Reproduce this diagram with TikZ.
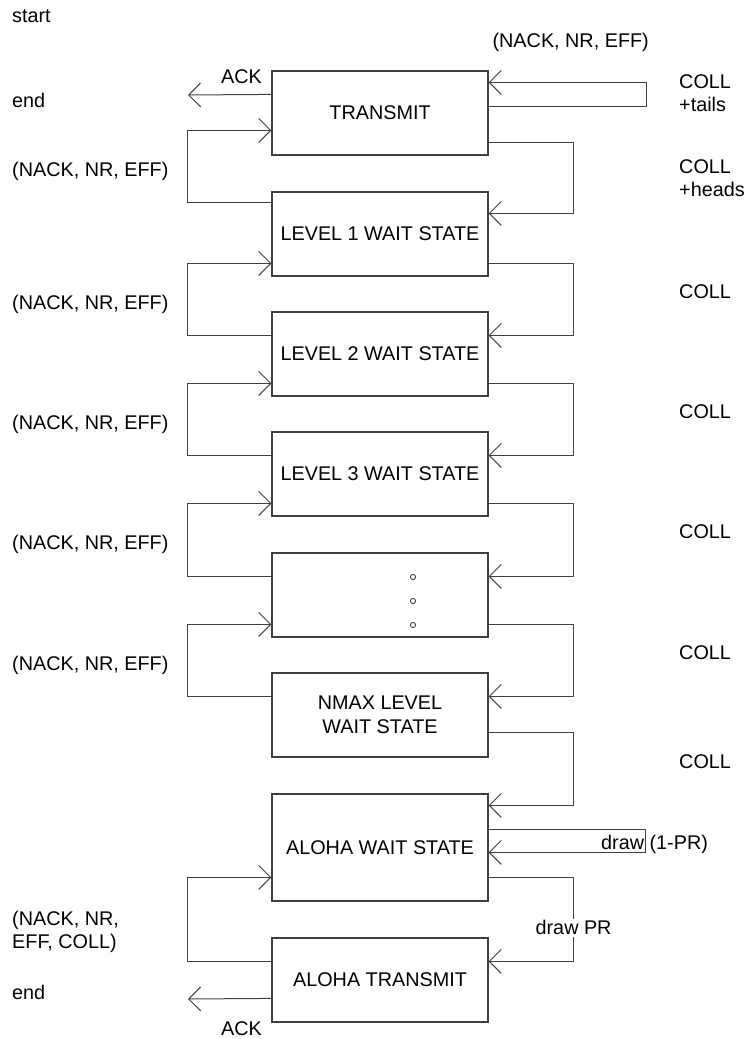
\documentclass[tikz,border=0pt]{standalone}
\usepackage{fontspec}
\setmainfont{Liberation Sans}
\usetikzlibrary{arrows.meta}

\begin{document}
\begin{tikzpicture}[x=1pt,y=-1pt,
  box/.style={draw=black!75,line width=1.2pt,minimum width=216pt,minimum height=84pt,inner sep=0pt,align=center,font=\fontsize{19.8}{23.5}\selectfont},
  txt/.style={inner sep=0pt,anchor=west,align=left,font=\fontsize{19.8}{23.5}\selectfont},
  arr/.style={draw=black!75,line width=1pt,-{Straight Barb[length=12pt,width=24pt,line width=1pt]}}
]
\useasboundingbox (0,0) rectangle (747,1039);

% states
\node[box] (tx) at (380,113) {TRANSMIT};
\node[box] (l1) at (380,234) {LEVEL 1 WAIT STATE};
\node[box] (l2) at (380,354) {LEVEL 2 WAIT STATE};
\node[box] (l3) at (380,474) {LEVEL 3 WAIT STATE};
\node[box] (ld) at (380,595) {};
\node[box] (ln) at (380,715) {NMAX LEVEL\\WAIT STATE};
\node[box,minimum height=107pt] (aw) at (380,847.5) {ALOHA WAIT STATE};
\node[box] (at) at (380,980) {ALOHA TRANSMIT};
\foreach \y in {577,601,625}
  \draw[black!75,line width=0.9pt] (413,\y) circle (2.6);

\coordinate (endtop) at (188,95);
\coordinate (endbot) at (188,999);

% texts
\node[txt] (start) at (12,16) {start};
\node[txt] (end1) at (12,100) {end};
\node[txt] (end2) at (12,992) {end};
\node[txt] (ack1) at (221,77) {ACK};
\node[txt] (ack2) at (221,1029) {ACK};
\node[txt,anchor=east] (nnetop) at (649,42) {(NACK, NR, EFF)};
\node[txt] (colltails) at (679,93) {COLL\\+tails};
\node[txt] (collheads) at (679,178) {COLL\\+heads};
\foreach \y [count=\i] in {171,304,424,544,665}
  \node[txt] (nne\i) at (12,\y) {(NACK, NR, EFF)};
\foreach \y [count=\i] in {292,412,532,653,762}
  \node[txt] (coll\i) at (679,\y) {COLL};
\node[txt] (nnec) at (12,932) {(NACK, NR,\\EFF, COLL)};
\node[txt] (drawq) at (601,844) {draw (1-PR)};

% transitions
\draw[arr] ([yshift=-24pt]tx.north west) -- (endtop);
\draw[arr] ([yshift=-36pt]tx.north east) -- ++(158,0) |- ([yshift=-12pt]tx.north east);
\draw[arr] ([yshift=-11pt]l1.north west) -- ++(-84,0) |- ([yshift=-60pt]tx.north west);
\draw[arr] ([yshift=-72pt]tx.north east) -- ++(85,0) |- ([yshift=-22pt]l1.north east);
\foreach \a/\b in {l2/l1,l3/l2,ld/l3,ln/ld}
  \draw[arr] ([yshift=-24pt]\a.north west) -- ++(-84,0) |- ([yshift=-72pt]\b.north west);
\foreach \a/\b in {l1/l2,l2/l3,l3/ld,ld/ln}
  \draw[arr] ([yshift=-72pt]\a.north east) -- ++(85,0) |- ([yshift=-24pt]\b.north east);
\draw[arr] ([yshift=-60pt]ln.north east) -- ++(85,0) |- ([yshift=-12pt]aw.north east);
\draw[arr] ([yshift=-36pt]aw.north east) -- ++(157,0) |- ([yshift=-59pt]aw.north east);
\draw[arr] ([yshift=-84pt]aw.north east) -- ++(85,0) |- node[pos=0.3,fill=white,inner sep=2pt,font=\fontsize{19.8}{23.5}\selectfont] (drawpr) {draw PR} ([yshift=-24pt]at.north east);
\draw[arr] ([yshift=-24pt]at.north west) -- ++(-84,0) |- ([yshift=-84pt]aw.north west);
\draw[arr] ([yshift=-61pt]at.north west) -- (endbot);
\end{tikzpicture}
\end{document}
